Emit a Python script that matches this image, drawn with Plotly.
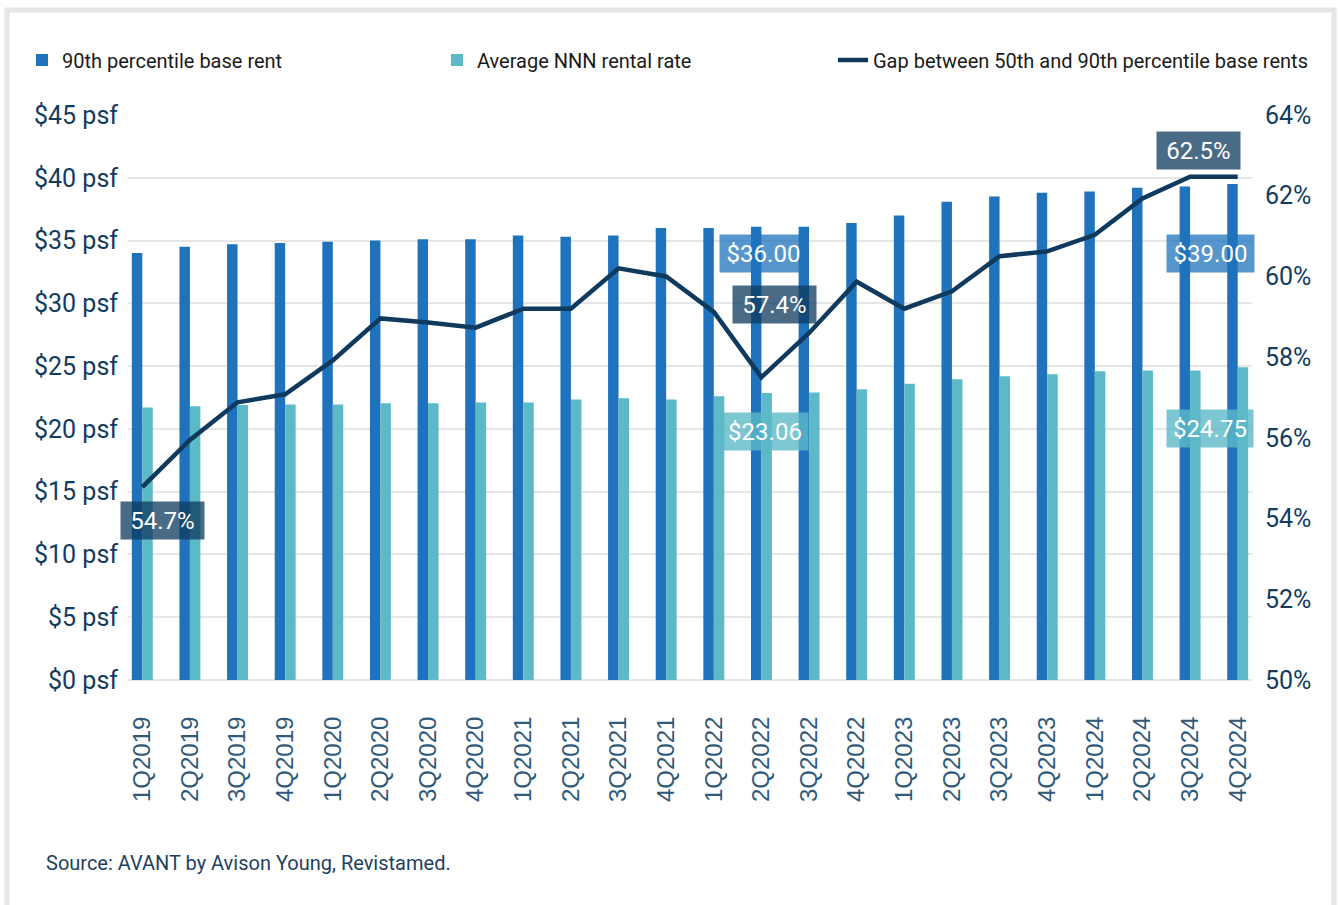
import plotly.graph_objects as go

quarters = ["1Q2019", "2Q2019", "3Q2019", "4Q2019", "1Q2020", "2Q2020", "3Q2020", "4Q2020",
            "1Q2021", "2Q2021", "3Q2021", "4Q2021", "1Q2022", "2Q2022", "3Q2022", "4Q2022",
            "1Q2023", "2Q2023", "3Q2023", "4Q2023", "1Q2024", "2Q2024", "3Q2024", "4Q2024"]

rent_90th = [34.0, 34.5, 34.7, 34.8, 34.9, 35.0, 35.1, 35.1, 35.4, 35.3, 35.4, 36.0,
             36.0, 36.1, 36.1, 36.4, 37.0, 38.1, 38.5, 38.8, 38.9, 39.2, 39.3, 39.5]

nnn_avg = [21.7, 21.8, 21.9, 21.95, 21.95, 22.05, 22.05, 22.1, 22.1, 22.35, 22.45, 22.35,
           22.6, 22.85, 22.9, 23.15, 23.6, 23.95, 24.2, 24.35, 24.6, 24.65, 24.65, 24.9]

gap_pct = [54.78, 55.95, 56.88, 57.08, 57.92, 58.96, 58.86, 58.73, 59.2, 59.2, 60.2, 60.0,
           59.12, 57.5, 58.6, 59.87, 59.2, 59.63, 60.5, 60.62, 61.03, 61.93, 62.47, 62.47]

left_ticks = [0, 5, 10, 15, 20, 25, 30, 35, 40, 45]
left_labels = ["$0 psf", "$5 psf", "$10 psf", "$15 psf", "$20 psf", "$25 psf",
               "$30 psf", "$35 psf", "$40 psf", "$45 psf"]
right_ticks = [50, 52, 54, 56, 58, 60, 62, 64]
right_labels = ["50%", "52%", "54%", "56%", "58%", "60%", "62%", "64%"]

DARK = "#1f73bc"
TEAL = "#5cb9c8"
NAVY = "#0f3a5e"
TXT = "#123c5e"

W, H = 1339, 905
ML, MR, MT, MB = 128, 87, 115, 225
PW, PH = W - ML - MR, H - MT - MB


def px(xp):
    return (xp - ML) / PW


def py(yp):
    return (H - MB - yp) / PH


fig = go.Figure()
fig.add_trace(go.Bar(x=quarters, y=rent_90th, name="90th percentile base rent",
                     marker=dict(color=DARK, line=dict(width=0)), legend="legend"))
fig.add_trace(go.Bar(x=quarters, y=nnn_avg, name="Average NNN rental rate",
                     marker=dict(color=TEAL, line=dict(width=0)), legend="legend2"))
fig.add_trace(go.Scatter(x=quarters, y=gap_pct, name="Gap between 50th and 90th percentile base rents",
                         mode="lines", line=dict(color=NAVY, width=4.5), yaxis="y2",
                         legend="legend3"))

pct_labels = [(0, "54.7%", 20, -33), (13, "57.4%", 13, 73), (23, "62.5%", -39, 26)]
rent_labels = [(13, "$36.00", 2, -27), (23, "$39.00", -27, -69)]
nnn_labels = [(13, "$23.06", 4, -38), (23, "$24.75", -28, -61)]

box_font = dict(family="Roboto, Arial", size=24, color="white")
for i, t, xs, ys in pct_labels:
    fig.add_annotation(x=quarters[i], y=gap_pct[i], xref="x", yref="y2", text=t,
                       showarrow=False, xshift=xs, yshift=ys, width=81, height=35,
                       bgcolor="rgba(14,58,94,0.75)", font=box_font)
for i, t, xs, ys in rent_labels:
    fig.add_annotation(x=quarters[i], y=rent_90th[i], xref="x", yref="y", text=t,
                       showarrow=False, xshift=xs, yshift=ys, width=85, height=35,
                       bgcolor="rgba(31,115,188,0.75)", font=box_font)
for i, t, xs, ys in nnn_labels:
    fig.add_annotation(x=quarters[i], y=nnn_avg[i], xref="x", yref="y", text=t,
                       showarrow=False, xshift=xs, yshift=ys, width=84, height=35,
                       bgcolor="rgba(92,185,200,0.8)", font=box_font)

fig.add_annotation(x=px(44), y=py(863), xref="paper", yref="paper", xanchor="left",
                   yanchor="middle", showarrow=False,
                   text="Source: AVANT by Avison Young, Revistamed.",
                   font=dict(family="Roboto, Arial", size=20, color="#1f3f5f"))

fig.add_shape(type="rect", xref="paper", yref="paper", x0=px(7), x1=px(1334),
              y0=py(930), y1=py(10), line=dict(color="#e6e6e6", width=5),
              fillcolor="rgba(0,0,0,0)", layer="below")

leg_common = dict(orientation="h", yanchor="middle", y=py(60), xanchor="left",
                  bgcolor="rgba(0,0,0,0)", font=dict(family="Roboto, Arial", size=20, color="#1a1a1a"))

fig.update_layout(
    width=W, height=H,
    margin=dict(l=ML, r=MR, t=MT, b=MB, pad=0),
    paper_bgcolor="white", plot_bgcolor="white",
    barmode="group", bargap=0.56, bargroupgap=0,
    showlegend=True,
    legend=dict(x=px(22), **leg_common),
    legend2=dict(x=px(437), **leg_common),
    legend3=dict(x=px(833), **leg_common),
    xaxis=dict(type="category", range=[-0.3, 23.3], tickangle=-90,
               tickfont=dict(family="Liberation Sans, Arial", size=24, color="#2f5a7a"),
               ticks="outside", ticklen=26, tickcolor="rgba(0,0,0,0)",
               showgrid=False, showline=False, zeroline=False),
    yaxis=dict(range=[0, 45], tickmode="array", tickvals=left_ticks, ticktext=left_labels,
               tickfont=dict(family="Roboto, Arial", size=25, color=TXT),
               ticks="outside", ticklen=4, tickcolor="rgba(0,0,0,0)",
               showgrid=True, gridcolor="#e6e6e6", gridwidth=2,
               zeroline=True, zerolinecolor="#e6e6e6", zerolinewidth=2, showline=False),
    yaxis2=dict(range=[50, 64], tickmode="array", tickvals=right_ticks, ticktext=right_labels,
                overlaying="y", side="right",
                tickfont=dict(family="Roboto, Arial", size=25, color=TXT),
                ticks="outside", ticklen=7, tickcolor="rgba(0,0,0,0)",
                showgrid=False, zeroline=False, showline=False),
)

fig.write_html("out.html", config={"displayModeBar": False},
               post_script="document.body.style.margin='0px';")
